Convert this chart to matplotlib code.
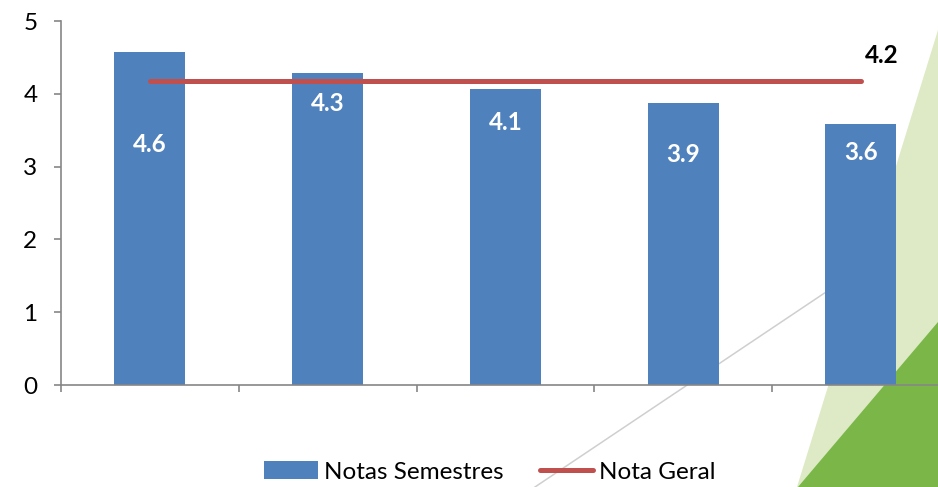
import numpy as np
import matplotlib.pyplot as plt
from matplotlib.patches import Polygon
from matplotlib.lines import Line2D

# dados
semestres = ['S1', 'S2', 'S3', 'S4', 'S5']
notas_semestres = [4.58, 4.29, 4.06, 3.88, 3.58]
nota_geral = 4.18
rotulos = ['4.6', '4.3', '4.1', '3.9', '3.6']
rotulo_geral = '4.2'

# deslocamento vertical dos rótulos dentro das barras (como no original)
desloc_rotulos = [-1.28, -0.43, -0.45, -0.72, -0.39]

azul = '#4F81BD'
vermelho = '#C0504D'
cinza = '#868686'
fs = 17.5

plt.rcParams['font.family'] = ['Lato', 'DejaVu Sans']

fig = plt.figure(figsize=(9.38, 4.87), dpi=100)

# fundo decorativo (verde + linha cinza)
W, H = 938, 487
def fx(px):
    return px / W
def fy(py):
    return 1 - py / H

fig.patches.append(Polygon([(fx(797), fy(487)), (fx(938), fy(30)), (fx(938), fy(487))],
                           closed=True, transform=fig.transFigure, facecolor='#DDEAC5',
                           edgecolor='none', zorder=-2))
fig.patches.append(Polygon([(fx(798), fy(487)), (fx(938), fy(322)), (fx(938), fy(487))],
                           closed=True, transform=fig.transFigure, facecolor='#7AB648',
                           edgecolor='none', zorder=-2))
fig.lines.append(Line2D([fx(535), fx(938)], [fy(487), fy(217)], transform=fig.transFigure,
                        color='#CFCFCF', linewidth=1.1, zorder=-2))

ax = fig.add_axes([61 / W, 102 / H, 888.75 / W, 364 / H])
ax.patch.set_alpha(0)

x = np.arange(len(semestres))
bars = ax.bar(x, notas_semestres, width=0.4, color=azul, zorder=2, label='Notas Semestres')

for xi, v, lab, d in zip(x, notas_semestres, rotulos, desloc_rotulos):
    ax.text(xi, v + d, lab, ha='center', va='center', color='white',
            fontsize=fs, fontweight='bold', zorder=4)

linha, = ax.plot([x[0], x[-1]], [nota_geral, nota_geral], color=vermelho, linewidth=3.6,
                 solid_capstyle='round', zorder=3, label='Nota Geral')
ax.text(x[-1] + 0.12, nota_geral + 0.35, rotulo_geral, ha='center', va='center',
        color='black', fontsize=fs, fontweight='bold')

ax.set_xlim(-0.5, len(semestres) - 0.5)
ax.set_ylim(0, 5)
ax.set_yticks(range(0, 6))
ax.set_xticks(np.arange(-0.5, len(semestres), 1.0))
ax.set_xticklabels([])

for s in ['top', 'right']:
    ax.spines[s].set_visible(False)
for s in ['left', 'bottom']:
    ax.spines[s].set_color(cinza)
    ax.spines[s].set_linewidth(1.2)

ax.tick_params(axis='y', length=5, width=1.2, color=cinza, labelsize=fs, pad=12)
ax.tick_params(axis='x', length=5, width=1.2, color=cinza)

fig.legend(handles=[bars, linha], loc='center', bbox_to_anchor=(490 / W, fy(472)), ncol=2,
           frameon=False, fontsize=fs, handlelength=2.2, handletextpad=0.25,
           columnspacing=1.5, handleheight=0.75)

fig.savefig('out.png', dpi=100)
